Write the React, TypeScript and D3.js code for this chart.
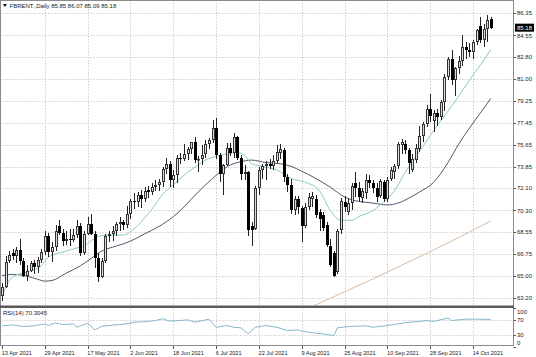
import React from 'react';
import * as d3 from 'd3';

// ---- Data ----
const opens = [63.3,64.1,66.2,66.8,66.6,67.1,66.2,65.0,65.4,66.0,65.7,66.3,66.9,68.2,66.9,67.3,69.0,68.5,67.8,68.0,67.9,68.3,69.0,66.8,68.4,69.2,68.4,66.4,64.9,66.2,68.2,68.4,68.6,69.2,69.4,69.1,70.0,71.1,71.0,71.6,71.2,72.0,71.8,72.2,72.4,72.6,73.7,74.1,72.8,73.2,74.6,74.5,74.9,75.3,75.9,74.4,74.5,74.9,75.7,76.0,77.0,74.8,73.3,74.0,75.4,75.0,76.3,74.6,73.3,73.4,69.0,68.8,72.1,73.6,73.9,74.1,73.9,74.3,75.0,75.2,73.0,72.4,70.3,71.2,70.5,69.0,70.6,71.2,71.2,70.2,69.9,69.1,67.4,66.8,65.3,68.7,71.0,70.2,70.9,72.5,72.1,71.3,71.7,72.8,72.5,72.1,71.5,72.6,71.2,72.9,73.4,73.9,75.6,75.7,75.2,73.6,74.4,75.3,76.4,77.3,78.6,77.6,78.2,77.9,79.1,81.2,82.6,80.9,81.9,82.5,83.6,83.4,83.2,84.0,85.3,84.2,85.1,85.85];
const highs = [64.4,66.6,67.0,67.2,67.3,68.0,66.4,65.9,66.2,66.3,66.5,67.2,68.6,68.5,67.7,69.1,69.5,68.8,68.6,68.8,68.8,69.5,69.3,68.6,69.8,70.0,68.6,66.8,66.4,68.4,68.6,69.0,69.4,69.8,69.5,70.7,71.2,71.7,71.8,72.0,72.2,72.3,72.5,72.8,72.9,73.8,74.6,74.3,73.6,74.8,75.0,75.7,75.5,75.9,76.3,74.7,75.6,76.0,76.2,77.7,77.8,75.0,74.1,75.8,75.8,76.6,76.4,74.8,74.0,73.5,69.4,72.3,73.8,74.1,74.3,74.5,74.8,75.6,75.7,75.4,73.3,72.9,71.5,71.5,70.7,70.9,71.7,71.8,71.6,70.4,70.2,69.4,68.0,67.0,68.8,71.3,71.5,71.3,72.5,73.4,72.6,72.1,73.3,73.2,72.8,72.5,72.9,72.8,73.0,73.8,74.1,75.9,76.1,76.0,75.4,74.9,75.7,77.2,77.5,78.9,79.8,78.5,78.6,79.3,81.4,82.8,83.4,82.0,82.9,84.6,84.0,83.9,84.2,85.1,86.05,85.5,86.2,86.07];
const lows = [62.9,64.0,66.0,66.3,66.0,65.9,64.9,64.6,65.3,65.1,65.2,66.0,66.7,66.5,66.1,67.0,68.3,67.4,67.5,67.4,67.7,68.1,66.6,66.7,68.3,68.3,65.6,64.5,64.8,66.0,67.7,67.8,68.2,68.6,68.7,68.9,69.6,70.4,70.6,70.5,71.0,71.3,71.6,71.9,71.9,72.2,73.3,72.2,72.1,72.5,74.1,74.3,74.4,74.9,74.2,73.4,74.0,74.6,75.3,75.8,74.5,72.6,71.6,73.9,74.7,74.6,74.4,72.8,72.8,68.2,67.4,68.7,71.6,72.9,72.8,73.7,73.6,74.2,74.5,72.6,71.8,70.0,69.9,70.0,67.7,68.9,70.3,70.6,69.7,68.6,68.6,67.3,65.7,64.9,65.1,68.4,70.2,69.9,70.3,71.4,71.0,70.9,71.2,72.1,71.7,71.0,71.3,71.0,71.0,72.7,72.9,73.7,74.9,74.9,73.3,73.4,74.2,75.1,75.9,77.1,77.5,76.7,77.2,77.7,78.4,80.9,80.5,79.6,81.4,82.1,82.6,82.8,82.6,83.8,83.9,83.6,84.0,85.09];
const closes = [64.1,66.1,66.7,66.6,67.1,66.2,65.0,65.4,66.0,65.7,66.3,66.9,68.2,66.9,67.3,68.6,68.5,67.8,68.0,67.9,68.3,69.0,66.8,68.4,69.2,68.4,66.4,64.9,66.2,68.2,68.4,68.6,69.2,69.4,69.1,70.0,71.1,71.0,71.6,71.2,71.9,71.8,72.2,72.4,72.6,73.7,74.1,72.8,73.2,74.6,74.5,74.9,75.3,75.9,74.4,74.5,74.8,75.7,76.0,77.0,74.8,73.3,74.0,75.4,75.0,76.3,74.6,73.3,73.4,68.7,68.7,72.1,73.6,73.9,74.1,73.9,74.3,75.1,75.3,73.0,72.4,70.3,71.2,70.6,69.0,70.6,71.4,71.5,69.9,69.6,68.9,67.5,65.9,65.0,68.6,71.1,70.6,70.9,72.3,72.1,71.4,71.9,72.8,72.5,72.1,71.4,72.7,71.2,72.8,73.6,73.9,75.7,75.9,75.2,74.2,74.5,75.4,76.4,77.3,78.6,78.0,78.2,77.9,79.1,81.2,82.6,80.9,81.9,82.5,83.6,83.4,83.2,84.0,85.0,84.2,85.1,85.8,85.18];

// moving averages and RSI: [bar index, value] read at sample points
const maFast: [number, number][] = [[0,63.4],[3,64.9],[7,65.3],[11,65.8],[13,66.5],[18,67.0],[24,67.6],[27,68.2],[30,68.3],[34,68.3],[37,68.8],[40,69.7],[42,70.4],[45,71.6],[48,72.4],[52,73.4],[55,74.0],[57,74.4],[60,74.7],[63,74.9],[66,75.0],[68,74.8],[70,74.1],[73,73.9],[77,73.6],[81,72.9],[85,72.6],[89,71.9],[92,70.3],[95,69.5],[98,69.5],[100,69.8],[104,70.3],[107,71.0],[110,71.9],[113,73.4],[117,75.1],[121,76.8],[124,78.0],[128,79.6],[131,80.9],[134,82.1],[137,83.4]];
const maSlow: [number, number][] = [[0,65.0],[3,65.1],[7,64.95],[10,64.7],[12,64.55],[14,64.6],[18,65.2],[22,65.8],[25,66.4],[28,67.0],[32,67.4],[36,67.8],[40,68.4],[44,69.0],[48,69.8],[50,70.3],[53,71.2],[56,72.1],[59,72.9],[61,73.4],[64,74.0],[67,74.27],[70,74.4],[74,74.2],[78,74.1],[81,73.9],[84,73.5],[88,72.9],[92,72.2],[96,71.4],[99,71.1],[101,71.0],[104,70.9],[108,70.75],[111,70.9],[114,71.3],[117,71.8],[121,72.6],[125,74.2],[128,75.7],[131,77.0],[134,78.2],[137,79.42]];
const maLong: [number, number][] = [[84,62.15],[87,62.5],[95,63.55],[103,64.6],[111,65.7],[120,66.95],[128,68.1],[137,69.45]];
const rsi: [number, number][] = [[0,53.6],[3,56],[6,52],[9,53.6],[12,58.8],[13,54.4],[15,61.4],[17,57],[20,58.8],[21,50],[23,57],[24,60.5],[26,43],[28,52.7],[31,55.3],[35,58.8],[37,63],[41,65],[43,67.5],[45,72],[47,66],[50,67.5],[52,69.3],[54,63],[58,71],[60,50],[63,54.4],[65,50],[67,48.4],[69,32.7],[71,50],[74,54.4],[77,50],[80,41.4],[83,43],[84,39.6],[88,34.4],[90,32.7],[93,28.3],[94,48.4],[97,52],[102,53.6],[104,50],[107,53.6],[110,57],[113,62],[117,65],[119,67.5],[121,65],[125,74],[126,67.5],[130,71],[133,71],[137,70.3]];

const priceTicks = [86.35, 84.55, 82.80, 81.00, 79.25, 77.45, 75.65, 73.85, 72.10, 70.30, 68.55, 66.75, 65.00, 63.20];
const rsiTicks = [100, 70, 30, 0];
const rsiLevels = [70, 30];
const dateTickIndex = [0, 12, 24, 36, 48, 60, 72, 84, 96, 108, 120, 132];
const dateTickLabels = ['13 Apr 2021', '29 Apr 2021', '17 May 2021', '2 Jun 2021', '18 Jun 2021', '6 Jul 2021', '22 Jul 2021', '9 Aug 2021', '25 Aug 2021', '10 Sep 2021', '28 Sep 2021', '14 Oct 2021'];
const headerText = 'FBRENT.,Daily 85.85 86.07 85.09 85.18';
const rsiText = 'RSI(14) 70.3045';
const lastPrice = 85.18;

const W = 536, H = 357;
const plotRight = 513.5;
const mainBottom = 306;
const font = '"Liberation Sans", Arial, sans-serif';

export default function App() {
  const x = d3.scaleLinear().domain([0, opens.length - 1]).range([2, 490.8]);
  const y = d3.scaleLinear().domain([63.2, 86.35]).range([297.7, 13.3]);
  const yr = d3.scaleLinear().domain([0, 100]).range([346.5, 308]);

  const lineMain = d3.line<[number, number]>().x(d => x(d[0])).y(d => y(d[1])).curve(d3.curveMonotoneX);
  const lineRsi = d3.line<[number, number]>().x(d => x(d[0])).y(d => yr(d[1]));

  const cx = (i: number) => Math.round(x(i)) + 0.5;
  const grid = '#cfcfcf';
  const dash = '1.5,1.5';

  return (
    <svg width={W} height={H} style={{ position: 'absolute', left: 0, top: 0, background: '#fff' }} fontFamily={font}>
      <defs>
        <clipPath id="mainClip"><rect x={0} y={0} width={plotRight} height={mainBottom - 1} /></clipPath>
        <clipPath id="rsiClip"><rect x={0} y={308} width={plotRight} height={38} /></clipPath>
      </defs>
      <rect x={0} y={0} width={W} height={H} fill="#fff" />
      {/* grids */}
      {priceTicks.map(t => (
        <line key={'hg' + t} x1={0} x2={plotRight} y1={Math.round(y(t)) + 0.5} y2={Math.round(y(t)) + 0.5} stroke={grid} strokeDasharray={dash} />
      ))}
      {dateTickIndex.slice(1).map(i => (
        <g key={'vg' + i}>
          <line x1={cx(i)} x2={cx(i)} y1={0} y2={mainBottom - 1} stroke={grid} strokeDasharray={dash} />
          <line x1={cx(i)} x2={cx(i)} y1={309} y2={346} stroke={grid} strokeDasharray={dash} />
        </g>
      ))}
      {rsiLevels.map(l => (
        <line key={'rl' + l} x1={0} x2={plotRight} y1={Math.round(yr(l)) + 0.5} y2={Math.round(yr(l)) + 0.5} stroke={grid} strokeDasharray={dash} />
      ))}

      {/* moving averages */}
      <g clipPath="url(#mainClip)" fill="none">
        <path d={lineMain(maLong) || ''} stroke="#d9bd98" strokeWidth={1} />
        <path d={lineMain(maSlow) || ''} stroke="#55556f" strokeWidth={1} />
        <path d={lineMain(maFast) || ''} stroke="#8ccabe" strokeWidth={1} />
      </g>

      {/* candles */}
      <g clipPath="url(#mainClip)">
        {opens.map((o, i) => {
          const c = closes[i];
          const up = c >= o;
          const X = cx(i);
          const top = Math.round(y(Math.max(o, c)));
          const bot = Math.max(Math.round(y(Math.min(o, c))), top + 1);
          return (
            <g key={'c' + i}>
              <line x1={X} x2={X} y1={Math.round(y(highs[i]))} y2={Math.round(y(lows[i]))} stroke="#222" />
              {up ? (
                <rect x={X - 1} y={top + 0.5} width={2} height={Math.max(bot - top - 1, 0.5)} fill="#dcdcdc" stroke="#333" />
              ) : (
                <rect x={X - 1.5} y={top} width={3} height={bot - top} fill="#000" />
              )}
            </g>
          );
        })}
      </g>

      {/* RSI */}
      <path d={lineRsi(rsi) || ''} fill="none" stroke="#86b6cc" strokeWidth={1} clipPath="url(#rsiClip)" />

      {/* frame */}
      <rect x={0.5} y={0.5} width={plotRight - 0.5} height={345} fill="none" stroke="#8a8a8a" />
      <rect x={0} y={305.5} width={plotRight + 0.5} height={2.5} fill="#5a5a5a" />

      {/* price axis */}
      {priceTicks.map(t => (
        <g key={'pt' + t}>
          <line x1={plotRight} x2={plotRight + 2.5} y1={Math.round(y(t)) + 0.5} y2={Math.round(y(t)) + 0.5} stroke="#555" />
          <text x={517} y={y(t)} dy="0.35em" fontSize={6} fill="#222">{t.toFixed(2)}</text>
        </g>
      ))}
      <rect x={515} y={y(lastPrice) - 4} width={19} height={8} fill="#000" />
      <text x={517} y={y(lastPrice)} dy="0.35em" fontSize={6} fill="#fff">{lastPrice.toFixed(2)}</text>

      {/* RSI axis */}
      {rsiTicks.map(t => {
        const yy = t === 100 ? yr(t) + 4.3 : t === 0 ? yr(t) - 3.5 : yr(t);
        return (
          <g key={'rt' + t}>
            <line x1={plotRight} x2={plotRight + 2.5} y1={Math.round(yr(t)) + 0.5} y2={Math.round(yr(t)) + 0.5} stroke="#555" />
            <text x={517} y={yy} dy="0.35em" fontSize={6} fill="#222">{t}</text>
          </g>
        );
      })}

      {/* date axis */}
      {dateTickIndex.map((i, k) => (
        <g key={'dt' + i}>
          <line x1={cx(i)} x2={cx(i)} y1={346} y2={349} stroke="#555" />
          <text x={x(i) - 0.3} y={354.5} fontSize={5.6} fill="#222">{dateTickLabels[k]}</text>
        </g>
      ))}

      {/* header and indicator label */}
      <path d="M3,4 L7,4 L5,7 Z" fill="#111" />
      <text x={9.5} y={7.5} fontSize={6} fill="#222">{headerText}</text>
      <text x={3} y={315} fontSize={6} fill="#222">{rsiText}</text>
    </svg>
  );
}
